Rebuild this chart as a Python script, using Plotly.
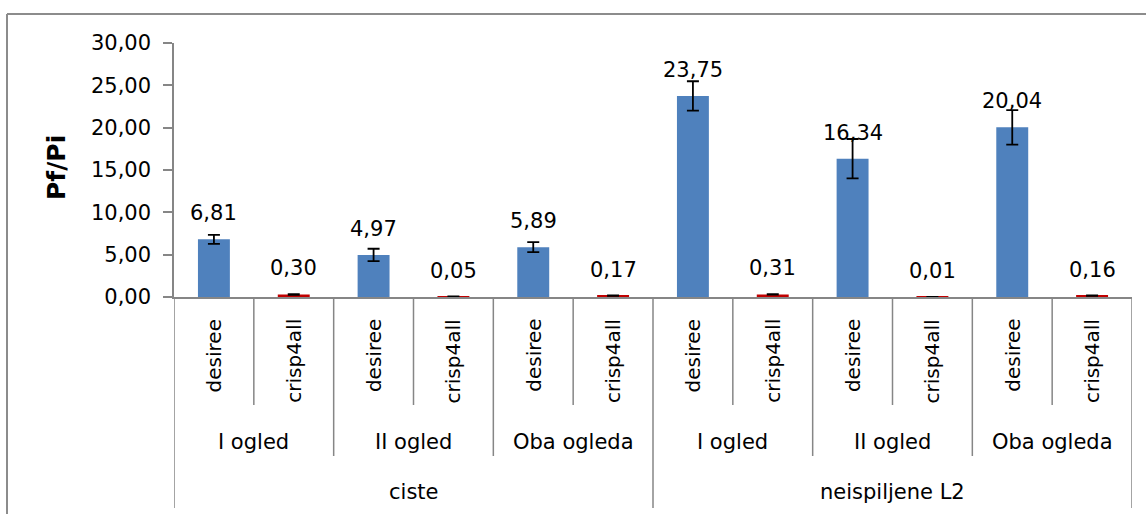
import plotly.graph_objects as go

# Hierarchical categories: parasite stage > trial > potato line
stages = ["ciste", "neispiljene L2"]
trials = ["I ogled", "II ogled", "Oba ogleda"]
lines = ["desiree", "crisp4all"]

# Pf/Pi means and error (per stage, per trial, per line)
desiree_vals = [6.81, 4.97, 5.89, 23.75, 16.34, 20.04]
crisp_vals = [0.30, 0.05, 0.17, 0.31, 0.01, 0.16]
desiree_err = [0.53, 0.73, 0.59, 1.73, 2.32, 2.04]
crisp_err = [0.04, 0.01, 0.03, 0.04, 0.01, 0.03]

y_ticks = [0, 5, 10, 15, 20, 25, 30]

FONT = "DejaVu Sans"
AX_COL = "#868686"
LINE_COLORS = {"desiree": "#4F81BD", "crisp4all": "#C00000"}

# Flatten into plotting order
vals, errs, names = [], [], []
for k in range(len(desiree_vals)):
    vals += [desiree_vals[k], crisp_vals[k]]
    errs += [desiree_err[k], crisp_err[k]]
    names += lines
xs = list(range(len(vals)))

fig = go.Figure()
fig.add_trace(go.Bar(
    x=xs, y=vals, width=0.4,
    marker=dict(color=[LINE_COLORS[n] for n in names], line=dict(width=0)),
    error_y=dict(type="data", array=errs, color="black", thickness=1.8, width=6),
    showlegend=False, hoverinfo="skip",
))

ann = []
# value labels
for x, v in zip(xs, vals):
    ann.append(dict(x=x, y=v, xref="x", yref="y", text=f"{v:.2f}".replace(".", ","),
                    showarrow=False, yanchor="middle", yshift=26,
                    font=dict(family=FONT, size=21, color="black")))

PX_W, PX_H = 958.0, 254.0
def py(px):  # pixel row -> paper y
    return (297 - px) / PX_H
def pxx(px):  # pixel column -> paper x
    return (px - 174) / PX_W

# innermost rotated labels
for x, n in zip(xs, names):
    ann.append(dict(x=x, y=py(317), xref="x", yref="paper", text=n, textangle=-90,
                    showarrow=False, yanchor="top", xanchor="center",
                    font=dict(family=FONT, size=20, color="black")))
# trial labels
for s in range(len(stages)):
    for t, name in enumerate(trials):
        cx = s * 6 + t * 2 + 0.5
        ann.append(dict(x=cx, y=py(442), xref="x", yref="paper", text=name,
                        showarrow=False, yanchor="middle", xanchor="center",
                        font=dict(family=FONT, size=21, color="black")))
# stage labels
for s, name in enumerate(stages):
    ann.append(dict(x=s * 6 + 2.5, y=py(492), xref="x", yref="paper", text=name,
                    showarrow=False, yanchor="middle", xanchor="center",
                    font=dict(family=FONT, size=21, color="black")))
# y-axis title
ann.append(dict(x=pxx(56), y=py(168), xref="paper", yref="paper", text="<b>Pf/Pi</b>",
                textangle=-90, showarrow=False, xanchor="center", yanchor="middle",
                font=dict(family=FONT, size=25, color="black")))

shapes = []
# category separators below the axis
for b in range(len(vals) + 1):
    xb = b - 0.5
    if b % 6 == 0:
        y1 = py(508)
    elif b % 2 == 0:
        y1 = py(456)
    else:
        y1 = py(405)
    shapes.append(dict(type="line", xref="x", yref="paper", x0=xb, x1=xb, y0=0, y1=y1,
                       line=dict(color=AX_COL, width=1.5)))
# outer chart frame
shapes.append(dict(type="line", xref="paper", yref="paper", x0=pxx(7), x1=pxx(1160),
                   y0=py(14), y1=py(14), line=dict(color="#8c8c8c", width=2)))
shapes.append(dict(type="line", xref="paper", yref="paper", x0=pxx(7), x1=pxx(7),
                   y0=py(14), y1=py(530), line=dict(color="#8c8c8c", width=2)))

fig.update_layout(
    width=1146, height=514,
    margin=dict(l=174, r=14, t=43, b=217),
    paper_bgcolor="white", plot_bgcolor="white",
    separators=",.",
    annotations=ann, shapes=shapes,
    font=dict(family=FONT, size=21, color="black"),
    xaxis=dict(range=[-0.5, len(vals) - 0.5], showticklabels=False, ticks="",
               showgrid=False, zeroline=False, showline=True, linecolor=AX_COL,
               linewidth=1.5, fixedrange=True),
    yaxis=dict(range=[0, 30], tickvals=y_ticks, tickformat=".2f", ticks="outside",
               ticklen=9, tickcolor=AX_COL, tickwidth=1.5, showgrid=False,
               zeroline=False, showline=True, linecolor=AX_COL, linewidth=1.5,
               ticklabelstandoff=8,
               tickfont=dict(family=FONT, size=21, color="black"), fixedrange=True),
)

fig.write_html("out.html")
